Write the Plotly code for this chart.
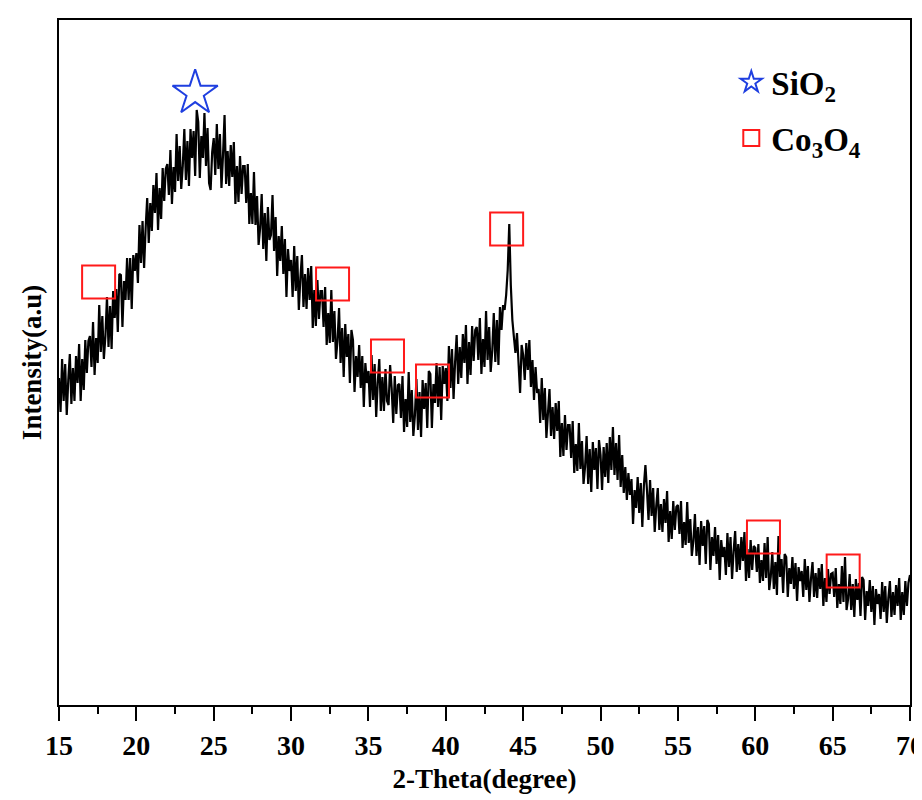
import plotly.graph_objects as go

# 2-theta grid start/step (0.1 degree) and intensities (a.u.)
theta_start = 15.0
theta_step = 0.1
intensity_rows = [
    [327, 293, 346, 304, 341, 290, 325, 351, 301, 337],  # 15
    [304, 349, 322, 361, 304, 346, 315, 365, 332, 364],  # 16
    [369, 338, 383, 330, 367, 342, 400, 353, 389, 346],  # 17
    [369, 408, 358, 399, 356, 414, 387, 416, 373, 431],  # 18
    [430, 378, 424, 405, 447, 405, 447, 396, 450, 434],  # 19
    [452, 422, 480, 442, 484, 437, 477, 507, 462, 502],  # 20
    [474, 520, 492, 532, 475, 517, 486, 537, 504, 536],  # 21
    [541, 510, 555, 501, 538, 513, 571, 524, 559, 516],  # 22
    [539, 576, 525, 564, 519, 576, 547, 574, 529, 595],  # 23
    [583, 527, 569, 547, 592, 539, 577, 522, 515, 553],  # 24
    [567, 530, 581, 536, 571, 517, 550, 590, 521, 554],  # 25
    [519, 560, 528, 563, 501, 539, 503, 549, 511, 539],  # 26
    [539, 502, 541, 481, 512, 481, 533, 480, 509, 460],  # 27
    [477, 511, 456, 492, 444, 498, 465, 470, 510, 454],  # 28
    [488, 429, 469, 444, 479, 431, 466, 408, 456, 434],  # 29
    [445, 408, 459, 414, 449, 395, 427, 450, 398, 431],  # 30
    [396, 437, 405, 439, 377, 415, 379, 425, 386, 414],  # 31
    [414, 378, 418, 360, 392, 362, 415, 363, 394, 346],  # 32
    [364, 397, 342, 377, 328, 381, 348, 371, 322, 375],  # 33
    [365, 313, 349, 328, 360, 317, 349, 298, 342, 322],  # 34
    [334, 298, 350, 305, 341, 288, 322, 346, 294, 328],  # 35
    [294, 336, 304, 300, 340, 317, 282, 329, 291, 320],  # 36
    [321, 287, 329, 273, 306, 278, 333, 283, 315, 269],  # 37
    [289, 326, 275, 313, 268, 325, 296, 322, 277, 334],  # 38
    [331, 277, 321, 302, 342, 298, 338, 285, 339, 321],  # 39
    [337, 304, 359, 317, 356, 306, 343, 370, 321, 358],  # 40
    [327, 371, 342, 380, 321, 363, 330, 379, 344, 375],  # 41
    [378, 345, 387, 331, 366, 338, 394, 345, 378, 333],  # 42
    [354, 392, 343, 385, 340, 398, 375, 400, 395, 410],  # 43
    [435, 481, 420, 385, 368, 352, 372, 345, 312, 360],  # 44
    [350, 325, 362, 335, 365, 318, 345, 305, 338, 312],  # 45
    [316, 282, 327, 285, 317, 267, 296, 316, 269, 298],  # 46
    [266, 302, 274, 304, 248, 282, 249, 290, 255, 280],  # 47
    [280, 247, 284, 232, 261, 234, 282, 236, 264, 221],  # 48
    [238, 269, 221, 256, 213, 263, 235, 257, 216, 265],  # 49
    [250, 215, 258, 228, 262, 222, 268, 235, 278, 230],  # 50
    [262, 225, 270, 218, 250, 212, 238, 205, 232, 210],  # 51
    [226, 181, 215, 197, 228, 192, 222, 178, 219, 240],  # 52
    [215, 185, 225, 189, 217, 173, 199, 217, 175, 201],  # 53
    [173, 206, 182, 214, 163, 194, 166, 204, 175, 198],  # 54
    [200, 171, 204, 157, 183, 160, 203, 162, 186, 149],  # 55
    [164, 191, 149, 178, 140, 184, 159, 179, 141, 185],  # 56
    [181, 135, 168, 149, 178, 141, 170, 125, 165, 148],  # 57
    [158, 130, 172, 138, 168, 126, 154, 174, 133, 161],  # 58
    [135, 168, 144, 173, 124, 156, 127, 165, 135, 159],  # 59
    [157, 133, 161, 122, 145, 124, 162, 127, 168, 115],  # 60
    [128, 153, 116, 143, 110, 169, 128, 146, 112, 151],  # 61
    [148, 108, 137, 121, 148, 116, 142, 104, 138, 124],  # 62
    [134, 108, 146, 115, 139, 103, 126, 143, 108, 132],  # 63
    [107, 137, 116, 141, 99, 127, 103, 136, 111, 131],   # 64
    [132, 108, 137, 97, 121, 101, 139, 103, 148, 95],    # 65
    [106, 131, 95, 121, 88, 126, 105, 122, 89, 128],     # 66
    [125, 85, 114, 99, 125, 93, 119, 80, 116, 101],      # 67
    [111, 86, 123, 93, 119, 82, 107, 124, 88, 113],      # 68
    [90, 120, 99, 127, 85, 113, 90, 124, 99, 122],       # 69
    [130],                                               # 70
]

# Peak marker positions (2-theta, intensity)
sio2_theta = [23.8]
sio2_int = [612]
co3o4_theta = [17.56, 32.68, 36.23, 39.14, 43.93, 60.53, 65.68]
co3o4_int = [423, 421, 349, 324, 476, 168, 134]

x_ticks = [15, 20, 25, 30, 35, 40, 45, 50, 55, 60, 65, 70]

intensity = [v for row in intensity_rows for v in row]
theta = [round(theta_start + i * theta_step, 2) for i in range(len(intensity))]

FONT = "Liberation Serif"

fig = go.Figure()
fig.add_trace(go.Scatter(
    x=theta, y=intensity, mode="lines",
    line=dict(color="black", width=2.2),
    showlegend=False, hoverinfo="skip",
))
fig.add_trace(go.Scatter(
    x=sio2_theta, y=sio2_int, mode="markers", name="SiO<sub>2</sub>",
    legendgroup="a",
    marker=dict(symbol="star-open", size=34, color="#1f3fe0", line=dict(width=2, color="#1f3fe0")),
))
fig.add_trace(go.Scatter(
    x=co3o4_theta, y=co3o4_int, mode="markers", name="Co<sub>3</sub>O<sub>4</sub>",
    legendgroup="b",
    marker=dict(symbol="square-open", size=33, color="#ff1a1a", line=dict(width=2, color="#ff1a1a")),
))

fig.update_layout(
    width=922, height=800,
    margin=dict(l=51, r=20, t=12, b=103),
    paper_bgcolor="white", plot_bgcolor="white",
    font=dict(family=FONT, color="black", size=26, weight="bold"),
    legend=dict(
        x=0.79, y=0.95, xanchor="left", yanchor="top",
        bgcolor="rgba(0,0,0,0)", borderwidth=0,
        font=dict(family=FONT, size=33, color="black", weight="bold"),
        tracegroupgap=10, itemsizing="trace",
    ),
    xaxis=dict(
        range=[15, 70], tickvals=x_ticks, ticktext=[str(t) for t in x_ticks],
        ticks="outside", ticklen=14, tickwidth=2, tickcolor="black",
        minor=dict(ticks="outside", ticklen=7, tickwidth=2, dtick=2.5, tick0=15, tickcolor="black"),
        showline=True, linecolor="black", linewidth=2, mirror=True,
        showgrid=False, zeroline=False, automargin=False,
        tickfont=dict(family=FONT, size=28, weight="bold"),
        title=dict(text="2-Theta(degree)", font=dict(family=FONT, size=27, weight="bold"), standoff=10),
    ),
    yaxis=dict(
        range=[0, 685], showticklabels=False, ticks="",
        showline=True, linecolor="black", linewidth=2, mirror=True,
        showgrid=False, zeroline=False, automargin=False,
        title=dict(text="Intensity(a.u)", font=dict(family=FONT, size=27, weight="bold"), standoff=8),
    ),
)

fig.write_html("out.html")
